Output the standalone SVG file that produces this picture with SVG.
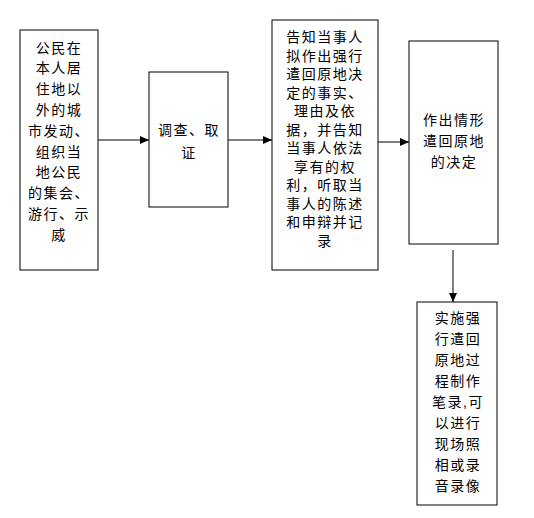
<svg xmlns="http://www.w3.org/2000/svg" width="534" height="518" viewBox="0 0 534 518">
<style>
.box{fill:#fff;stroke:#000;stroke-width:1}
.t{font-family:"Liberation Sans","Noto Sans CJK SC",sans-serif;font-size:14px;letter-spacing:1.5px;text-anchor:middle;fill:#000}
.c{stroke:#000;stroke-width:1;fill:none}
</style>
<defs>
<marker id="ah" markerWidth="10" markerHeight="8" refX="9" refY="4" orient="auto" markerUnits="userSpaceOnUse">
<path d="M0,0 L9,4 L0,8 Z" fill="#000"/>
</marker>
</defs>
<rect width="534" height="518" fill="#fff"/>
<g id="n1">
<rect class="box" x="20" y="30" width="78" height="240"/>
<text class="t" x="59"><tspan x="59" y="52.5">公民在</tspan><tspan x="59" y="73.3">本人居</tspan><tspan x="59" y="94.1">住地以</tspan><tspan x="59" y="114.9">外的城</tspan><tspan x="59" y="135.7">市发动、</tspan><tspan x="59" y="156.5">组织当</tspan><tspan x="59" y="177.3">地公民</tspan><tspan x="59" y="198.1">的集会、</tspan><tspan x="59" y="218.9">游行、示</tspan><tspan x="59" y="239.7">威</tspan></text>
</g>
<g id="n2">
<rect class="box" x="149" y="72" width="79" height="135"/>
<text class="t"><tspan x="189" y="135">调查、取</tspan><tspan x="189" y="158">证</tspan></text>
</g>
<g id="n3">
<rect class="box" x="272" y="20" width="106" height="250"/>
<text class="t"><tspan x="325" y="42">告知当事人</tspan><tspan x="325" y="60.5">拟作出强行</tspan><tspan x="325" y="79">遣回原地决</tspan><tspan x="325" y="97.5">定的事实、</tspan><tspan x="325" y="116">理由及依</tspan><tspan x="325" y="134.5">据，并告知</tspan><tspan x="325" y="153">当事人依法</tspan><tspan x="325" y="171.5">享有的权</tspan><tspan x="325" y="190">利，听取当</tspan><tspan x="325" y="208.5">事人的陈述</tspan><tspan x="325" y="227">和申辩并记</tspan><tspan x="325" y="245.5">录</tspan></text>
</g>
<g id="n4">
<rect class="box" x="409" y="41" width="89" height="203"/>
<text class="t"><tspan x="454" y="125">作出情形</tspan><tspan x="454" y="146">遣回原地</tspan><tspan x="454" y="167">的决定</tspan></text>
</g>
<g id="n5">
<rect class="box" x="417" y="302" width="80" height="203"/>
<text class="t"><tspan x="458" y="323">实施强</tspan><tspan x="458" y="344">行遣回</tspan><tspan x="458" y="365">原地过</tspan><tspan x="458" y="386">程制作</tspan><tspan x="458" y="407">笔录,可</tspan><tspan x="458" y="428">以进行</tspan><tspan x="458" y="449">现场照</tspan><tspan x="458" y="470">相或录</tspan><tspan x="458" y="491">音录像</tspan></text>
</g>
<g id="connectors">
<line class="c" x1="98" y1="140" x2="149" y2="140" marker-end="url(#ah)"/>
<line class="c" x1="228" y1="140" x2="272" y2="140" marker-end="url(#ah)"/>
<line class="c" x1="378" y1="142" x2="409" y2="142" marker-end="url(#ah)"/>
<line class="c" x1="453" y1="250" x2="453" y2="302" marker-end="url(#ah)"/>
</g>
</svg>
